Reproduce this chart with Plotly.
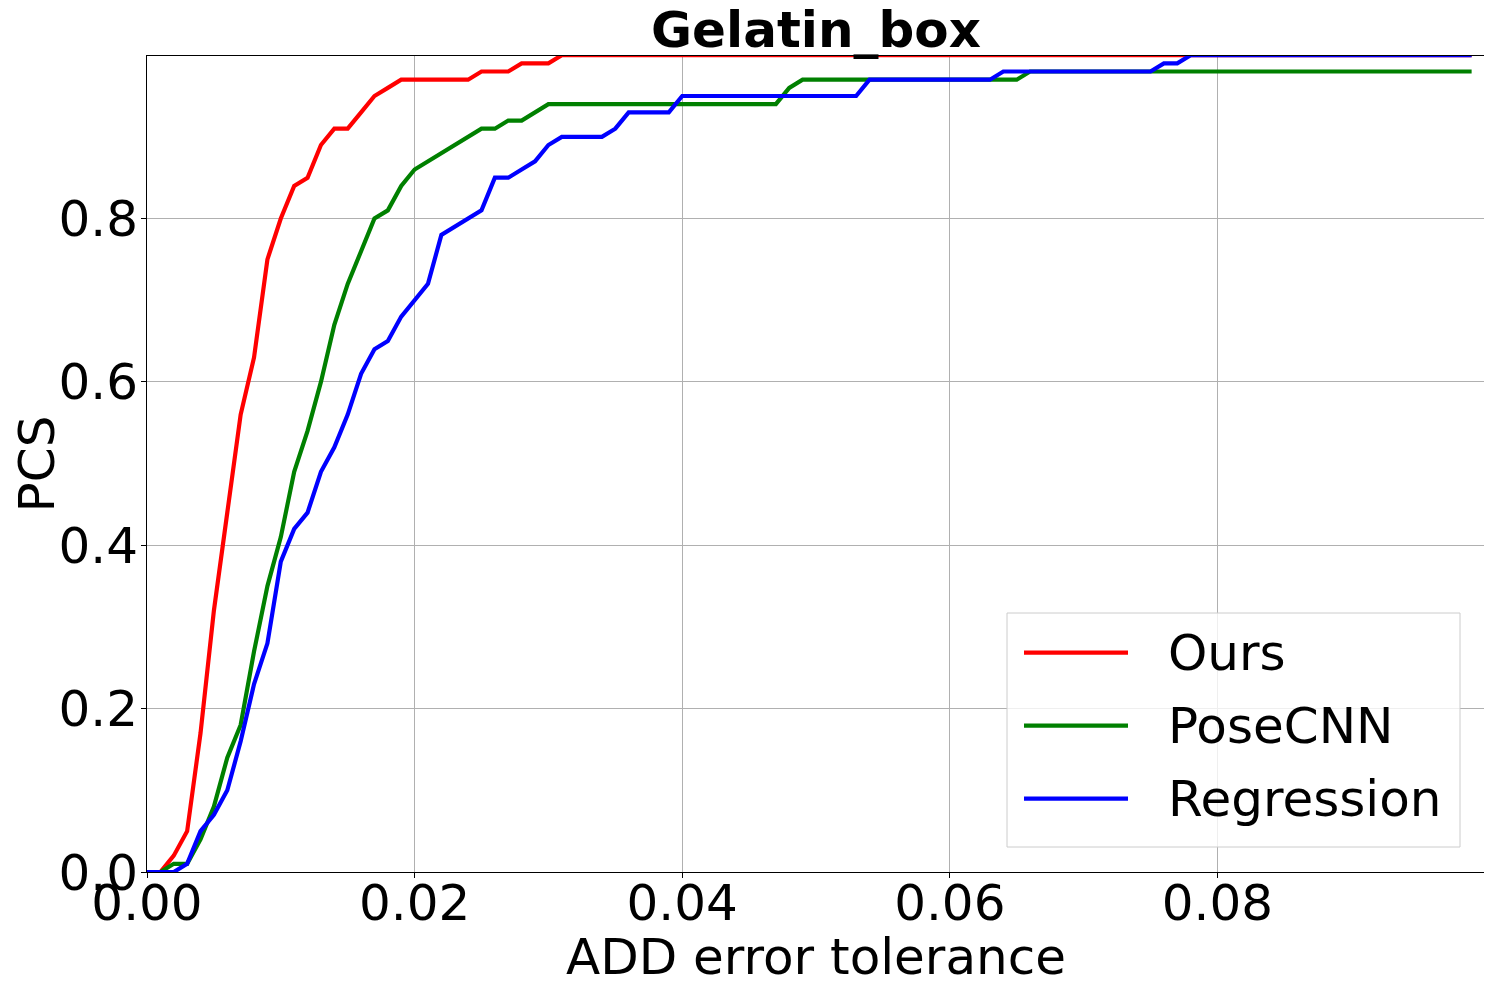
import plotly.graph_objects as go

# ---------------- data ----------------
x_tol = [round(i * 0.001, 3) for i in range(100)]

ours = [0.00, 0.00, 0.02, 0.05, 0.17, 0.32, 0.44, 0.56, 0.63, 0.75,
        0.80, 0.84, 0.85, 0.89, 0.91, 0.91, 0.93, 0.95, 0.96, 0.97,
        0.97, 0.97, 0.97, 0.97, 0.97, 0.98, 0.98, 0.98, 0.99, 0.99,
        0.99] + [1.00] * 69

posecnn = [0.00, 0.00, 0.01, 0.01, 0.04, 0.08, 0.14, 0.18, 0.27, 0.35,
           0.41, 0.49, 0.54, 0.60, 0.67, 0.72, 0.76, 0.80, 0.81, 0.84,
           0.86, 0.87, 0.88, 0.89, 0.90, 0.91, 0.91, 0.92, 0.92, 0.93,
           0.94, 0.94, 0.94, 0.94, 0.94, 0.94, 0.94, 0.94, 0.94, 0.94,
           0.94, 0.94, 0.94, 0.94, 0.94, 0.94, 0.94, 0.94, 0.96, 0.97,
           0.97, 0.97, 0.97, 0.97, 0.97, 0.97, 0.97, 0.97, 0.97, 0.97,
           0.97, 0.97, 0.97, 0.97, 0.97, 0.97] + [0.98] * 34

regression = [0.00, 0.00, 0.00, 0.01, 0.05, 0.07, 0.10, 0.16, 0.23, 0.28,
              0.38, 0.42, 0.44, 0.49, 0.52, 0.56, 0.61, 0.64, 0.65, 0.68,
              0.70, 0.72, 0.78, 0.79, 0.80, 0.81, 0.85, 0.85, 0.86, 0.87,
              0.89, 0.90, 0.90, 0.90, 0.90, 0.91, 0.93, 0.93, 0.93, 0.93,
              0.95, 0.95, 0.95, 0.95, 0.95, 0.95, 0.95, 0.95, 0.95, 0.95,
              0.95, 0.95, 0.95, 0.95, 0.97, 0.97, 0.97, 0.97, 0.97, 0.97,
              0.97, 0.97, 0.97, 0.97, 0.98, 0.98, 0.98, 0.98, 0.98, 0.98,
              0.98, 0.98, 0.98, 0.98, 0.98, 0.98, 0.99, 0.99] + [1.00] * 22

series_names = ["Ours", "PoseCNN", "Regression"]
series_colors = ["#ff0000", "#008000", "#0000ff"]
x_ticks = [0.0, 0.02, 0.04, 0.06, 0.08]
x_tick_text = ["0.00", "0.02", "0.04", "0.06", "0.08"]
y_ticks = [0.0, 0.2, 0.4, 0.6, 0.8]
y_tick_text = ["0.0", "0.2", "0.4", "0.6", "0.8"]
title_text = "Gelatin_box"
x_title = "ADD error tolerance"
y_title = "PCS"

# ---------------- figure ----------------
OFF = 8                      # default page body margin
W, H = 1492 - OFF, 986 - OFF
PL, PR, PT, PB = 147, 1485, 56, 872   # plot area in window pixels
L, R, T, B = PL - OFF, 1492 - PR, PT - OFF, 986 - PB
PW, PH = PR - PL, PB - PT
FONT = "DejaVu Sans"
FS = 50

fig = go.Figure()
for name, ys, col in zip(series_names, [ours, posecnn, regression], series_colors):
    fig.add_trace(go.Scatter(x=x_tol, y=ys, mode="lines", name=name,
                             line=dict(color=col, width=4.2), showlegend=False))

def px_x(p):
    return (p - PL) / PW

def px_y(p):
    return (PB - p) / PH

# manual legend (matplotlib style)
fig.add_shape(type="rect", xref="paper", yref="paper",
              x0=px_x(1007), x1=px_x(1460), y0=px_y(847), y1=px_y(613),
              fillcolor="rgba(255,255,255,0.8)", line=dict(color="#cccccc", width=1),
              layer="above")
row_y = [652.7, 725.7, 798.7]
for name, col, ry in zip(series_names, series_colors, row_y):
    fig.add_shape(type="line", xref="paper", yref="paper",
                  x0=px_x(1024), x1=px_x(1128), y0=px_y(ry), y1=px_y(ry),
                  line=dict(color=col, width=4.2), layer="above")
    fig.add_annotation(xref="paper", yref="paper", x=px_x(1166), y=px_y(ry),
                       xanchor="left", yanchor="middle", text=name, showarrow=False,
                       font=dict(family=FONT, size=FS, color="black"))

fig.update_layout(
    width=W, height=H,
    margin=dict(l=L, r=R, t=T, b=B, autoexpand=False),
    paper_bgcolor="white", plot_bgcolor="white",
    font=dict(family=FONT, size=FS, color="black"),
    title=dict(text="<b>" + title_text + "</b>", x=0.5, xref="paper",
               xanchor="center", yref="container",
               y=1 - (29 - OFF) / H, yanchor="middle",
               font=dict(family=FONT, size=FS, color="black")),
)
fig.update_xaxes(range=[0, 0.1], tickvals=x_ticks, ticktext=x_tick_text,
                 showgrid=True, gridcolor="#b0b0b0", gridwidth=1,
                 showline=True, mirror=True, linecolor="black", linewidth=1,
                 ticks="outside", ticklen=5, tickcolor="black",
                 ticklabelstandoff=-18,
                 zeroline=False, automargin=False,
                 title=dict(text=x_title, standoff=20,
                            font=dict(family=FONT, size=FS, color="black")))
fig.update_yaxes(range=[0, 0.999], tickvals=y_ticks, ticktext=y_tick_text,
                 showgrid=True, gridcolor="#b0b0b0", gridwidth=1,
                 showline=True, mirror=True, linecolor="black", linewidth=1,
                 ticks="outside", ticklen=5, tickcolor="black",
                 ticklabelstandoff=-7,
                 zeroline=False, automargin=False,
                 title=dict(text=y_title, standoff=16,
                            font=dict(family=FONT, size=FS, color="black")))

fig.write_html("out.html")
